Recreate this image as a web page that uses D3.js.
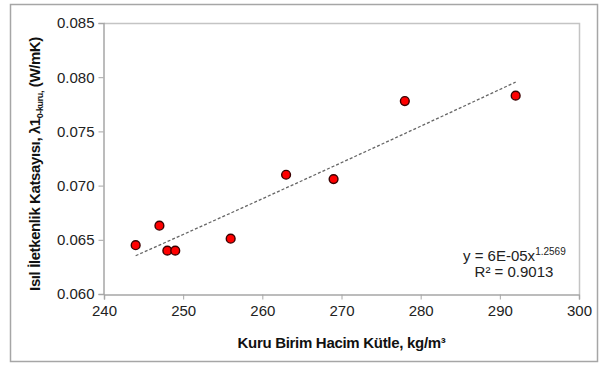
<!DOCTYPE html>
<html>
<head>
<meta charset="utf-8">
<script src="https://cdn.jsdelivr.net/npm/d3@7"></script>
<style>
  body { margin: 0; background: #fff; }
  svg { display: block; font-family: "Liberation Sans", Arial, sans-serif; }
</style>
</head>
<body>
<div id="chart"></div>
<script>
// density (kg/m3) vs thermal conductivity (W/mK)
const densities = [244, 247, 248, 249, 256, 263, 269, 278, 292];
const conductivities = [0.0645, 0.0663, 0.0640, 0.0640, 0.0651, 0.0710, 0.0706, 0.0778, 0.0783];
const xTicks = [240, 250, 260, 270, 280, 290, 300];
const yTicks = [0.060, 0.065, 0.070, 0.075, 0.080, 0.085];
const equationText = "y = 6E-05x";
const equationExp = "1.2569";
const r2Text = "R² = 0.9013";

const width = 600;
const height = 365;
const plot = { left: 104, right: 579, top: 23, bottom: 294 };

const svg = d3.select("#chart")
    .append("svg")
    .attr("width", width)
    .attr("height", height);

// outer frame
svg.append("rect")
    .attr("x", 10.5)
    .attr("y", 4.5)
    .attr("width", 587)
    .attr("height", 357)
    .attr("fill", "#fff")
    .attr("stroke", "#a6a6a6")
    .attr("stroke-width", 1.5);

const x = d3.scaleLinear().domain([240, 300]).range([plot.left, plot.right]);
const y = d3.scaleLinear().domain([0.060, 0.085]).range([plot.bottom, plot.top]);

// plot area border (top + right)
svg.append("path")
    .attr("d", `M${plot.left},${plot.top + 0.5}H${plot.right + 0.5}V${plot.bottom}`)
    .attr("fill", "none")
    .attr("stroke", "#c4c4c4")
    .attr("stroke-width", 1.5);

const xAxis = svg.append("g")
    .attr("transform", `translate(0,${plot.bottom + 0.5})`)
    .call(d3.axisBottom(x).tickValues(xTicks).tickSize(5).tickPadding(6).tickFormat(d3.format("d")));

const yAxis = svg.append("g")
    .attr("transform", `translate(${plot.left - 0.5},0)`)
    .call(d3.axisLeft(y).tickValues(yTicks).tickSize(5).tickPadding(4).tickFormat(d3.format(".3f")));

[xAxis, yAxis].forEach(ax => {
    ax.select(".domain").attr("stroke", "#a6a6a6").attr("stroke-width", 1.5);
    ax.selectAll(".tick line").attr("stroke", "#a6a6a6");
    ax.selectAll(".tick text")
        .attr("fill", "#222")
        .style("font-size", "15px")
        .style("font-family", "'Liberation Sans', Arial, sans-serif");
});

// power trend line, fitted in log-log space
const lx = densities.map(Math.log);
const ly = conductivities.map(Math.log);
const mx = d3.mean(lx);
const my = d3.mean(ly);
const b = d3.sum(lx, (d, i) => (d - mx) * (ly[i] - my)) / d3.sum(lx, d => (d - mx) * (d - mx));
const a = Math.exp(my - b * mx);
const trendX = d3.range(d3.min(densities), d3.max(densities) + 0.01, 1);

svg.append("path")
    .datum(trendX)
    .attr("d", d3.line().x(d => x(d)).y(d => y(a * Math.pow(d, b))))
    .attr("fill", "none")
    .attr("stroke", "#666")
    .attr("stroke-width", 1.3)
    .attr("stroke-dasharray", "3,2");

svg.append("g")
    .selectAll("circle")
    .data(densities)
    .join("circle")
    .attr("cx", d => x(d))
    .attr("cy", (d, i) => y(conductivities[i]))
    .attr("r", 4.4)
    .attr("fill", "#ff0000")
    .attr("stroke", "#3a0000")
    .attr("stroke-width", 1.4);

// equation labels
const eq = svg.append("text")
    .attr("x", 463)
    .attr("y", 261)
    .attr("fill", "#222")
    .style("font-size", "15px");
eq.append("tspan").text(equationText);
eq.append("tspan").attr("dy", -6).style("font-size", "10px").text(equationExp);

svg.append("text")
    .attr("x", 514)
    .attr("y", 277)
    .attr("text-anchor", "middle")
    .attr("fill", "#222")
    .style("font-size", "15px")
    .text(r2Text);

// axis titles
svg.append("text")
    .attr("x", (plot.left + plot.right) / 2)
    .attr("y", 348)
    .attr("text-anchor", "middle")
    .attr("fill", "#111")
    .style("font-size", "15px")
    .style("font-weight", "bold")
    .style("letter-spacing", "-0.3px")
    .text("Kuru Birim Hacim Kütle, kg/m³");

const yTitle = svg.append("text")
    .attr("transform", "translate(40,164) rotate(-90)")
    .attr("text-anchor", "middle")
    .attr("fill", "#111")
    .style("font-size", "15px")
    .style("font-weight", "bold")
    .style("letter-spacing", "-0.4px");
yTitle.append("tspan").text("Isıl İletkenlik Katsayısı, λ1");
yTitle.append("tspan").attr("dy", 3).style("font-size", "9px").text("0-kuru,");
yTitle.append("tspan").attr("dy", -3).text(" (W/mK)");
</script>
</body>
</html>
